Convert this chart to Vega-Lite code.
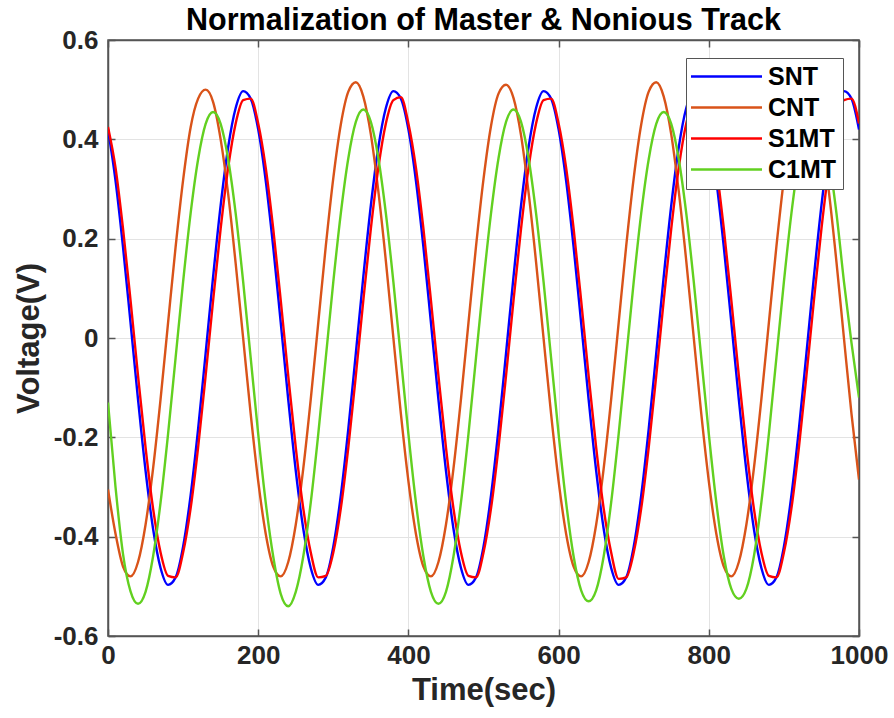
{
"$schema": "https://vega.github.io/schema/vega-lite/v6.json",
"width": 751, "height": 596,
"autosize": {"type": "none"},
"padding": {"left": 108, "top": 40, "right": 35, "bottom": 82},
"background": "white",
"title": {"text": "Normalization of Master & Nonious Track", "font": "Liberation Sans", "fontSize": 30.5, "fontWeight": "bold", "color": "#000000", "anchor": "middle", "offset": 2, "dy": 11},
"config": {
  "view": {"stroke": "#555555", "strokeWidth": 1.5},
  "axis": {"labelFont": "Liberation Sans", "labelFontSize": 26, "labelFontWeight": "bold", "labelColor": "#262626", "titleFont": "Liberation Sans", "titleFontSize": 31, "titleFontWeight": "bold", "titleColor": "#262626", "tickColor": "#555555", "domainColor": "#555555", "domainWidth": 1.5, "tickWidth": 1.5, "gridColor": "#e3e3e3", "gridWidth": 1, "tickSize": -7}
},
"data": {"values": [
{"t":0,"SNT":0.420,"CNT":-0.305,"S1MT":0.425,"C1MT":-0.130},
{"t":10,"SNT":0.317,"CNT":-0.394,"S1MT":0.343,"C1MT":-0.300},
{"t":20,"SNT":0.183,"CNT":-0.460,"S1MT":0.220,"C1MT":-0.435},
{"t":30,"SNT":0.031,"CNT":-0.480,"S1MT":0.076,"C1MT":-0.510},
{"t":40,"SNT":-0.124,"CNT":-0.451,"S1MT":-0.076,"C1MT":-0.535},
{"t":50,"SNT":-0.267,"CNT":-0.376,"S1MT":-0.220,"C1MT":-0.511},
{"t":60,"SNT":-0.384,"CNT":-0.263,"S1MT":-0.343,"C1MT":-0.440},
{"t":70,"SNT":-0.463,"CNT":-0.123,"S1MT":-0.432,"C1MT":-0.331},
{"t":80,"SNT":-0.497,"CNT":0.031,"S1MT":-0.479,"C1MT":-0.193},
{"t":90,"SNT":-0.482,"CNT":0.183,"S1MT":-0.482,"C1MT":-0.040},
{"t":100,"SNT":-0.420,"CNT":0.318,"S1MT":-0.432,"C1MT":0.113},
{"t":110,"SNT":-0.317,"CNT":0.424,"S1MT":-0.343,"C1MT":0.251},
{"t":120,"SNT":-0.183,"CNT":0.482,"S1MT":-0.220,"C1MT":0.360},
{"t":130,"SNT":-0.031,"CNT":0.500,"S1MT":-0.076,"C1MT":0.431},
{"t":140,"SNT":0.124,"CNT":0.475,"S1MT":0.076,"C1MT":0.455},
{"t":150,"SNT":0.267,"CNT":0.400,"S1MT":0.220,"C1MT":0.431},
{"t":160,"SNT":0.384,"CNT":0.290,"S1MT":0.343,"C1MT":0.360},
{"t":170,"SNT":0.463,"CNT":0.150,"S1MT":0.432,"C1MT":0.251},
{"t":180,"SNT":0.497,"CNT":-0.001,"S1MT":0.479,"C1MT":0.113},
{"t":190,"SNT":0.482,"CNT":-0.153,"S1MT":0.482,"C1MT":-0.040},
{"t":200,"SNT":0.420,"CNT":-0.288,"S1MT":0.432,"C1MT":-0.193},
{"t":210,"SNT":0.317,"CNT":-0.394,"S1MT":0.343,"C1MT":-0.331},
{"t":220,"SNT":0.183,"CNT":-0.460,"S1MT":0.220,"C1MT":-0.440},
{"t":230,"SNT":0.031,"CNT":-0.480,"S1MT":0.076,"C1MT":-0.515},
{"t":240,"SNT":-0.124,"CNT":-0.451,"S1MT":-0.076,"C1MT":-0.540},
{"t":250,"SNT":-0.267,"CNT":-0.376,"S1MT":-0.220,"C1MT":-0.511},
{"t":260,"SNT":-0.384,"CNT":-0.263,"S1MT":-0.343,"C1MT":-0.440},
{"t":270,"SNT":-0.463,"CNT":-0.123,"S1MT":-0.432,"C1MT":-0.331},
{"t":280,"SNT":-0.497,"CNT":0.031,"S1MT":-0.482,"C1MT":-0.193},
{"t":290,"SNT":-0.482,"CNT":0.185,"S1MT":-0.479,"C1MT":-0.040},
{"t":300,"SNT":-0.420,"CNT":0.322,"S1MT":-0.432,"C1MT":0.113},
{"t":310,"SNT":-0.317,"CNT":0.430,"S1MT":-0.343,"C1MT":0.251},
{"t":320,"SNT":-0.183,"CNT":0.496,"S1MT":-0.220,"C1MT":0.362},
{"t":330,"SNT":-0.031,"CNT":0.515,"S1MT":-0.076,"C1MT":0.435},
{"t":340,"SNT":0.124,"CNT":0.486,"S1MT":0.076,"C1MT":0.460},
{"t":350,"SNT":0.267,"CNT":0.410,"S1MT":0.220,"C1MT":0.435},
{"t":360,"SNT":0.384,"CNT":0.295,"S1MT":0.343,"C1MT":0.362},
{"t":370,"SNT":0.463,"CNT":0.155,"S1MT":0.432,"C1MT":0.251},
{"t":380,"SNT":0.497,"CNT":0.000,"S1MT":0.479,"C1MT":0.113},
{"t":390,"SNT":0.482,"CNT":-0.153,"S1MT":0.485,"C1MT":-0.040},
{"t":400,"SNT":0.420,"CNT":-0.288,"S1MT":0.432,"C1MT":-0.193},
{"t":410,"SNT":0.317,"CNT":-0.394,"S1MT":0.343,"C1MT":-0.331},
{"t":420,"SNT":0.183,"CNT":-0.460,"S1MT":0.220,"C1MT":-0.440},
{"t":430,"SNT":0.031,"CNT":-0.480,"S1MT":0.076,"C1MT":-0.511},
{"t":440,"SNT":-0.124,"CNT":-0.451,"S1MT":-0.076,"C1MT":-0.535},
{"t":450,"SNT":-0.267,"CNT":-0.376,"S1MT":-0.220,"C1MT":-0.511},
{"t":460,"SNT":-0.384,"CNT":-0.263,"S1MT":-0.343,"C1MT":-0.440},
{"t":470,"SNT":-0.463,"CNT":-0.123,"S1MT":-0.432,"C1MT":-0.331},
{"t":480,"SNT":-0.497,"CNT":0.031,"S1MT":-0.479,"C1MT":-0.193},
{"t":490,"SNT":-0.482,"CNT":0.184,"S1MT":-0.482,"C1MT":-0.040},
{"t":500,"SNT":-0.420,"CNT":0.320,"S1MT":-0.432,"C1MT":0.113},
{"t":510,"SNT":-0.317,"CNT":0.427,"S1MT":-0.343,"C1MT":0.251},
{"t":520,"SNT":-0.183,"CNT":0.492,"S1MT":-0.220,"C1MT":0.362},
{"t":530,"SNT":-0.031,"CNT":0.510,"S1MT":-0.076,"C1MT":0.435},
{"t":540,"SNT":0.124,"CNT":0.483,"S1MT":0.076,"C1MT":0.460},
{"t":550,"SNT":0.267,"CNT":0.408,"S1MT":0.220,"C1MT":0.435},
{"t":560,"SNT":0.384,"CNT":0.293,"S1MT":0.343,"C1MT":0.362},
{"t":570,"SNT":0.463,"CNT":0.153,"S1MT":0.432,"C1MT":0.251},
{"t":580,"SNT":0.497,"CNT":-0.001,"S1MT":0.479,"C1MT":0.113},
{"t":590,"SNT":0.482,"CNT":-0.153,"S1MT":0.482,"C1MT":-0.040},
{"t":600,"SNT":0.420,"CNT":-0.288,"S1MT":0.432,"C1MT":-0.193},
{"t":610,"SNT":0.317,"CNT":-0.394,"S1MT":0.343,"C1MT":-0.331},
{"t":620,"SNT":0.183,"CNT":-0.460,"S1MT":0.220,"C1MT":-0.440},
{"t":630,"SNT":0.031,"CNT":-0.480,"S1MT":0.076,"C1MT":-0.508},
{"t":640,"SNT":-0.124,"CNT":-0.451,"S1MT":-0.076,"C1MT":-0.530},
{"t":650,"SNT":-0.267,"CNT":-0.376,"S1MT":-0.220,"C1MT":-0.508},
{"t":660,"SNT":-0.384,"CNT":-0.263,"S1MT":-0.343,"C1MT":-0.440},
{"t":670,"SNT":-0.463,"CNT":-0.123,"S1MT":-0.432,"C1MT":-0.331},
{"t":680,"SNT":-0.497,"CNT":0.031,"S1MT":-0.485,"C1MT":-0.193},
{"t":690,"SNT":-0.482,"CNT":0.185,"S1MT":-0.482,"C1MT":-0.040},
{"t":700,"SNT":-0.420,"CNT":0.322,"S1MT":-0.432,"C1MT":0.113},
{"t":710,"SNT":-0.317,"CNT":0.430,"S1MT":-0.343,"C1MT":0.251},
{"t":720,"SNT":-0.183,"CNT":0.496,"S1MT":-0.220,"C1MT":0.360},
{"t":730,"SNT":-0.031,"CNT":0.515,"S1MT":-0.076,"C1MT":0.431},
{"t":740,"SNT":0.124,"CNT":0.486,"S1MT":0.076,"C1MT":0.455},
{"t":750,"SNT":0.267,"CNT":0.410,"S1MT":0.220,"C1MT":0.431},
{"t":760,"SNT":0.384,"CNT":0.295,"S1MT":0.343,"C1MT":0.360},
{"t":770,"SNT":0.463,"CNT":0.155,"S1MT":0.432,"C1MT":0.251},
{"t":780,"SNT":0.497,"CNT":0.000,"S1MT":0.479,"C1MT":0.113},
{"t":790,"SNT":0.482,"CNT":-0.153,"S1MT":0.482,"C1MT":-0.040},
{"t":800,"SNT":0.420,"CNT":-0.288,"S1MT":0.432,"C1MT":-0.193},
{"t":810,"SNT":0.317,"CNT":-0.394,"S1MT":0.343,"C1MT":-0.331},
{"t":820,"SNT":0.183,"CNT":-0.460,"S1MT":0.220,"C1MT":-0.440},
{"t":830,"SNT":0.031,"CNT":-0.480,"S1MT":0.076,"C1MT":-0.505},
{"t":840,"SNT":-0.124,"CNT":-0.451,"S1MT":-0.076,"C1MT":-0.525},
{"t":850,"SNT":-0.267,"CNT":-0.376,"S1MT":-0.220,"C1MT":-0.505},
{"t":860,"SNT":-0.384,"CNT":-0.263,"S1MT":-0.343,"C1MT":-0.440},
{"t":870,"SNT":-0.463,"CNT":-0.123,"S1MT":-0.432,"C1MT":-0.331},
{"t":880,"SNT":-0.497,"CNT":0.031,"S1MT":-0.479,"C1MT":-0.193},
{"t":890,"SNT":-0.482,"CNT":0.184,"S1MT":-0.482,"C1MT":-0.040},
{"t":900,"SNT":-0.420,"CNT":0.320,"S1MT":-0.432,"C1MT":0.113},
{"t":910,"SNT":-0.317,"CNT":0.427,"S1MT":-0.343,"C1MT":0.251},
{"t":920,"SNT":-0.183,"CNT":0.492,"S1MT":-0.220,"C1MT":0.360},
{"t":930,"SNT":-0.031,"CNT":0.510,"S1MT":-0.076,"C1MT":0.431},
{"t":940,"SNT":0.124,"CNT":0.483,"S1MT":0.076,"C1MT":0.455},
{"t":950,"SNT":0.267,"CNT":0.408,"S1MT":0.220,"C1MT":0.431},
{"t":960,"SNT":0.384,"CNT":0.293,"S1MT":0.343,"C1MT":0.360},
{"t":970,"SNT":0.463,"CNT":0.153,"S1MT":0.432,"C1MT":0.251},
{"t":980,"SNT":0.497,"CNT":-0.001,"S1MT":0.479,"C1MT":0.113},
{"t":990,"SNT":0.482,"CNT":-0.153,"S1MT":0.482,"C1MT":-0.010},
{"t":1000,"SNT":0.420,"CNT":-0.285,"S1MT":0.432,"C1MT":-0.120}
]},
"transform": [{"fold": ["SNT", "CNT", "S1MT", "C1MT"], "as": ["series", "v"]}],
"layer": [
  {
    "mark": {"type": "line", "strokeWidth": 2.4, "clip": true, "interpolate": "monotone"},
    "encoding": {
      "x": {"field": "t", "type": "quantitative", "scale": {"domain": [0, 1000], "nice": false},
        "axis": {"title": "Time(sec)", "values": [0, 200, 400, 600, 800, 1000], "format": "d", "labelPadding": 13, "titlePadding": 7, "grid": true, "labelFlush": false}},
      "y": {"field": "v", "type": "quantitative", "scale": {"domain": [-0.6, 0.6], "nice": false},
        "axis": {"title": "Voltage(V)", "values": [-0.6, -0.4, -0.2, 0, 0.2, 0.4, 0.6], "labelExpr": "datum.value == 0 ? '0' : (datum.value < 0 ? '-' : '') + format(abs(datum.value), '.1f')", "labelPadding": 17, "titlePadding": 8, "grid": true, "labelFlush": false}},
      "color": {"field": "series", "type": "nominal",
        "scale": {"domain": ["SNT", "CNT", "S1MT", "C1MT"], "range": ["#0000FF", "#D95319", "#FF0000", "#62D020"]},
        "legend": {"title": null, "orient": "none", "legendX": 578, "legendY": 18, "strokeColor": "#555555", "fillColor": "#FFFFFF", "padding": 6,
          "symbolType": "M-2.7,0H11.5", "symbolSize": 100, "symbolStrokeWidth": 2.4, "labelOffset": 51,
          "labelFont": "Liberation Sans", "labelFontSize": 25, "labelFontWeight": "bold", "labelColor": "#000000", "rowPadding": 5}}
    }
  },
  {
    "mark": {"type": "line", "opacity": 0},
    "encoding": {
      "x": {"field": "t", "type": "quantitative", "axis": {"orient": "top", "title": null, "labels": false, "grid": false, "values": [0, 200, 400, 600, 800, 1000]}},
      "y": {"field": "v", "type": "quantitative", "axis": {"orient": "right", "title": null, "labels": false, "grid": false, "values": [-0.6, -0.4, -0.2, 0, 0.2, 0.4, 0.6]}}
    }
  }
],
"resolve": {"axis": {"x": "independent", "y": "independent"}}
}
